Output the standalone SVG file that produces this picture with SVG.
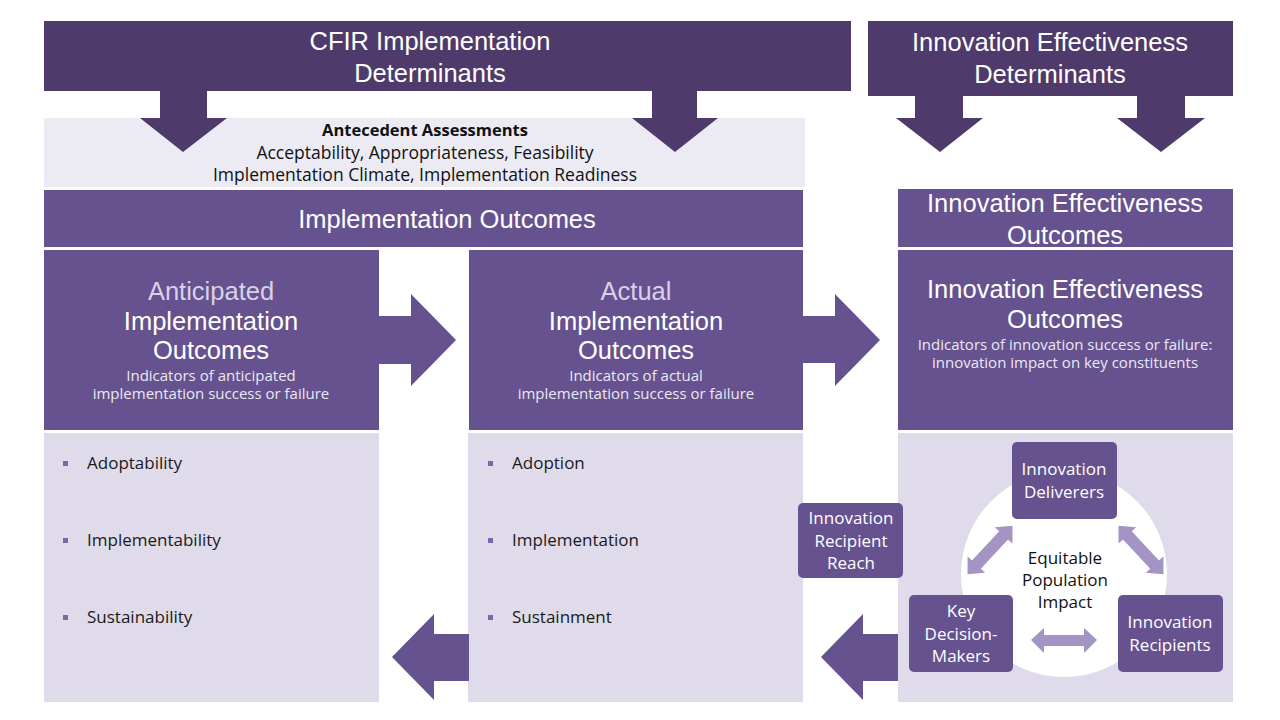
<svg xmlns="http://www.w3.org/2000/svg" width="1280" height="720" viewBox="0 0 1280 720">
<style>
.dark{fill:#4e3b6b}
.mid{fill:#65528f}
.light{fill:#dfdbea}
.t{font-family:"Open Sans","Liberation Sans",sans-serif;text-anchor:middle}
.w{fill:#ffffff}
.lav{fill:#d9d1e8}
.sub{fill:#ece8f3;font-size:15px}
.big{font-family:"Liberation Sans",Arial,sans-serif;font-size:25.5px}
.node{font-size:17px;fill:#ffffff}
.blk{fill:#111111}
.li{font-family:"Open Sans","Liberation Sans",sans-serif;font-size:17px;fill:#1a1a1a}
.bul{fill:#7a68a8}
.dbl{fill:#a394c4}
</style>
<rect width="1280" height="720" fill="#ffffff"/>

<g id="cfir-determinants">
<rect class="dark" x="44" y="21" width="807" height="70"/>
<text class="t w big"><tspan x="430" y="50">CFIR Implementation</tspan><tspan x="430" y="82">Determinants</tspan></text>
</g>

<g id="antecedent">
<rect x="44" y="118" width="761" height="69" fill="#ecebf3"/>
<text class="t blk" x="425" y="136" font-size="16.5" font-weight="bold">Antecedent Assessments</text>
<text class="t blk" font-size="17.5"><tspan x="425" y="159">Acceptability, Appropriateness, Feasibility</tspan><tspan x="425" y="181">Implementation Climate, Implementation Readiness</tspan></text>
</g>

<g id="ie-determinants">
<rect class="dark" x="868" y="21" width="365" height="75"/>
<text class="t w big"><tspan x="1050" y="51">Innovation Effectiveness</tspan><tspan x="1050" y="83">Determinants</tspan></text>
</g>

<g id="impl-outcomes-bar">
<rect class="mid" x="44" y="190" width="759" height="57"/>
<text class="t w big" x="447" y="228">Implementation Outcomes</text>
</g>

<g id="ie-outcomes-bar">
<rect class="mid" x="898" y="189" width="335" height="58"/>
<text class="t w big"><tspan x="1065" y="212">Innovation Effectiveness</tspan><tspan x="1065" y="244">Outcomes</tspan></text>
</g>

<g id="anticipated">
<rect class="mid" x="44" y="250" width="335" height="180"/>
<text class="t big"><tspan class="lav" x="211" y="300">Anticipated</tspan><tspan class="w" x="211" y="330">Implementation</tspan><tspan class="w" x="211" y="359">Outcomes</tspan></text>
<text class="t sub"><tspan x="211" y="381">Indicators of anticipated</tspan><tspan x="211" y="399">implementation success or failure</tspan></text>
</g>

<g id="actual">
<rect class="mid" x="469" y="250" width="334" height="180"/>
<text class="t big"><tspan class="lav" x="636" y="300">Actual</tspan><tspan class="w" x="636" y="330">Implementation</tspan><tspan class="w" x="636" y="359">Outcomes</tspan></text>
<text class="t sub"><tspan x="636" y="381">Indicators of actual</tspan><tspan x="636" y="399">implementation success or failure</tspan></text>
</g>

<g id="ie-outcomes">
<rect class="mid" x="898" y="250" width="335" height="180"/>
<text class="t w big"><tspan x="1065" y="298">Innovation Effectiveness</tspan><tspan x="1065" y="328">Outcomes</tspan></text>
<text class="t sub"><tspan x="1065" y="350">Indicators of innovation success or failure:</tspan><tspan x="1065" y="368">innovation impact on key constituents</tspan></text>
</g>

<g id="anticipated-list">
<rect class="light" x="44" y="433" width="335" height="269"/>
<rect class="bul" x="63" y="461" width="5" height="5"/>
<text class="li" x="87" y="469">Adoptability</text>
<rect class="bul" x="63" y="538" width="5" height="5"/>
<text class="li" x="87" y="546">Implementability</text>
<rect class="bul" x="63" y="615" width="5" height="5"/>
<text class="li" x="87" y="623">Sustainability</text>
</g>

<g id="actual-list">
<rect class="light" x="468" y="433" width="335" height="269"/>
<rect class="bul" x="488" y="461" width="5" height="5"/>
<text class="li" x="512" y="469">Adoption</text>
<rect class="bul" x="488" y="538" width="5" height="5"/>
<text class="li" x="512" y="546">Implementation</text>
<rect class="bul" x="488" y="615" width="5" height="5"/>
<text class="li" x="512" y="623">Sustainment</text>
</g>

<g id="ie-panel">
<rect class="light" x="898" y="433" width="335" height="269"/>
<circle cx="1064" cy="574" r="103" fill="#ffffff"/>
</g>

<g id="connectors">
<polygon class="dark" points="160,91 207,91 207,118 227,118 183,152 140,118 160,118"/>
<polygon class="dark" points="652,91 697,91 697,118 718,118 675,152 632,118 652,118"/>
<polygon class="dark" points="915,96 963,96 963,118 983,118 940,152 896,118 915,118"/>
<polygon class="dark" points="1137,96 1185,96 1185,118 1205,118 1161,152 1117,118 1137,118"/>
<polygon class="mid" points="379,316 411,316 411,294 456,340 411,386 411,364 379,364"/>
<polygon class="mid" points="803,316 835,316 835,294 880,340 835,386 835,363 803,363"/>
<polygon class="mid" points="469,634 434,634 434,614 392,657 434,700 434,681 469,681"/>
<polygon class="mid" points="898,634 863,634 863,614 821,657 863,700 863,681 898,681"/>
<polygon class="dbl" points="1031,640 1044,628 1044,635 1084,635 1084,628 1097,640 1084,653 1084,646 1044,646 1044,653"/>
<polygon class="dbl" transform="translate(990,550) rotate(-47)" points="-33,0 -20,-12 -20,-6 20,-6 20,-12 33,0 20,12 20,6 -20,6 -20,12"/>
<polygon class="dbl" transform="translate(1141,550) rotate(47)" points="-33,0 -20,-12 -20,-6 20,-6 20,-12 33,0 20,12 20,6 -20,6 -20,12"/>
</g>

<g id="deliverers">
<rect class="mid" x="1012" y="442" width="105" height="77" rx="5"/>
<text class="t node"><tspan x="1064" y="475">Innovation</tspan><tspan x="1064" y="498">Deliverers</tspan></text>
</g>

<g id="reach">
<rect class="mid" x="798" y="503" width="105" height="75" rx="5"/>
<text class="t node"><tspan x="851" y="524">Innovation</tspan><tspan x="851" y="547">Recipient</tspan><tspan x="851" y="569">Reach</tspan></text>
</g>

<g id="decision-makers">
<rect class="mid" x="909" y="595" width="104" height="77" rx="5"/>
<text class="t node"><tspan x="961" y="617">Key</tspan><tspan x="961" y="640">Decision-</tspan><tspan x="961" y="662">Makers</tspan></text>
</g>

<g id="recipients">
<rect class="mid" x="1118" y="595" width="105" height="77" rx="5"/>
<text class="t node"><tspan x="1170" y="628">Innovation</tspan><tspan x="1170" y="651">Recipients</tspan></text>
</g>

<g id="equitable">
<text class="t blk" font-size="17"><tspan x="1065" y="564">Equitable</tspan><tspan x="1065" y="586">Population</tspan><tspan x="1065" y="608">Impact</tspan></text>
</g>
</svg>
